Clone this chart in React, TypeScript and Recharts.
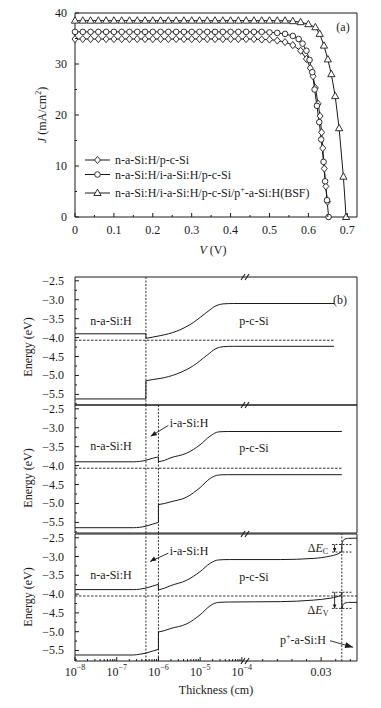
import React from 'react'
import {
  LineChart, Line, XAxis, YAxis, ReferenceLine, ReferenceArea, ReferenceDot,
} from 'recharts'

const FONT = '"Liberation Serif", "Times New Roman", Times, serif'
const INK = '#1a1a1a'

// ---------- (a) J-V curves ----------
const vDiamond = [0, 0.02, 0.04, 0.06, 0.08, 0.1, 0.12, 0.14, 0.16, 0.18, 0.2, 0.22, 0.24, 0.26, 0.28, 0.3, 0.32, 0.34, 0.36, 0.38, 0.4, 0.42, 0.44, 0.46, 0.48, 0.5,
  0.52, 0.54, 0.56, 0.58, 0.595, 0.605, 0.612, 0.618, 0.625, 0.63, 0.634, 0.637, 0.641, 0.645, 0.649]
const jDiamond = [34.9, 34.9, 34.9, 34.9, 34.9, 34.9, 34.9, 34.9, 34.9, 34.9, 34.9, 34.9, 34.9, 34.9, 34.9, 34.9, 34.9, 34.9, 34.9, 34.9, 34.9, 34.9, 34.9, 34.9, 34.8, 34.8,
  34.6, 34.3, 33.7, 32.6, 31.0, 29.2, 27.6, 25.3, 22.2, 19.8, 16.6, 13.5, 9.5, 6.0, 3.0]

const vCircle = [0, 0.02, 0.04, 0.06, 0.08, 0.1, 0.12, 0.14, 0.16, 0.18, 0.2, 0.22, 0.24, 0.26, 0.28, 0.3, 0.32, 0.34, 0.36, 0.38, 0.4, 0.42, 0.44, 0.46, 0.48, 0.5,
  0.52, 0.54, 0.56, 0.575, 0.585, 0.595, 0.603, 0.61, 0.616, 0.622, 0.628, 0.633, 0.639, 0.643, 0.648, 0.652]
const jCircle = [36.3, 36.3, 36.3, 36.3, 36.3, 36.3, 36.3, 36.3, 36.3, 36.3, 36.3, 36.3, 36.3, 36.3, 36.3, 36.3, 36.3, 36.3, 36.3, 36.3, 36.3, 36.3, 36.3, 36.3, 36.3, 36.2,
  36.1, 35.9, 35.5, 34.9, 34.0, 32.6, 30.8, 28.4, 25.0, 21.8, 18.6, 15.2, 10.8, 7.0, 3.3, 0]

const vTriangle = [0, 0.02, 0.04, 0.06, 0.08, 0.1, 0.12, 0.14, 0.16, 0.18, 0.2, 0.22, 0.24, 0.26, 0.28, 0.3, 0.32, 0.34, 0.36, 0.38, 0.4, 0.42, 0.44, 0.46, 0.48, 0.5, 0.52, 0.54, 0.56,
  0.58, 0.6, 0.618, 0.629, 0.64, 0.65, 0.659, 0.669, 0.679, 0.69, 0.697]
const jTriangle = [38.5, 38.5, 38.5, 38.5, 38.5, 38.5, 38.5, 38.5, 38.5, 38.5, 38.5, 38.5, 38.5, 38.5, 38.5, 38.5, 38.5, 38.5, 38.5, 38.5, 38.5, 38.5, 38.5, 38.5, 38.5, 38.5, 38.5, 38.5, 38.4,
  38.2, 37.8, 37.2, 35.9, 33.6, 30.9, 28.0, 23.7, 17.4, 7.9, 0]

const jMajor = [0, 10, 20, 30, 40]
const jMinor = [5, 15, 25, 35]
const vMajor = [0, 0.1, 0.2, 0.3, 0.4, 0.5, 0.6, 0.7]
const vMinor = [0.05, 0.15, 0.25, 0.35, 0.45, 0.55, 0.65]

// ---------- (b) band diagrams ----------
// x = position on the thickness axis: log10(cm) left of the break, compressed linear part right of it
const X_DOMAIN: [number, number] = [-8, -1.24]
const E_DOMAIN: [number, number] = [-5.78, -2.4]
const decadeExps = [-8, -7, -6, -5, -4]
const linTick = -2.1 // "0.03"
const linMinor = [-3.5, -3.15, -2.8, -2.45, -1.75, -1.4]
const eMajor = [-2.5, -3, -3.5, -4, -4.5, -5, -5.5]
const eMinor = [-2.75, -3.25, -3.75, -4.25, -4.75, -5.25, -5.75]

// (b) top: n-a-Si:H / p-c-Si
const nEc1 = [[-8, -3.9], [-6.3, -3.9], [-6.3, -4.02]]
const cEc1 = [[-6.3, -4.02], [-6.15, -3.99], [-5.96, -3.95], [-5.56, -3.83], [-5.16, -3.6], [-4.84, -3.33], [-4.62, -3.16], [-4.45, -3.11], [-4.2, -3.1], [-1.79, -3.1]]
const nEv1 = [[-8, -5.62], [-6.3, -5.62], [-6.3, -5.14]]
const cEv1 = [[-6.3, -5.14], [-6.15, -5.11], [-5.96, -5.08], [-5.56, -4.96], [-5.16, -4.74], [-4.84, -4.47], [-4.62, -4.29], [-4.45, -4.24], [-4.2, -4.23], [-1.79, -4.23]]
const ef1 = [[-8, -4.07], [-1.79, -4.07]]

// (b) middle: n-a-Si:H / i-a-Si:H / p-c-Si
const nEc2 = [[-8, -3.9], [-6.6, -3.9], [-6.45, -3.89], [-6.3, -3.86]]
const iEc2 = [[-6.3, -3.86], [-6.15, -3.81], [-6.0, -3.77], [-6.0, -3.9]]
const cEc2 = [[-6.0, -3.9], [-5.85, -3.86], [-5.72, -3.8], [-5.32, -3.67], [-5.0, -3.45], [-4.76, -3.22], [-4.56, -3.11], [-4.35, -3.1], [-1.604, -3.1]]
const nEv2 = [[-8, -5.64], [-6.6, -5.64], [-6.45, -5.63], [-6.3, -5.6]]
const iEv2 = [[-6.3, -5.6], [-6.15, -5.55], [-6.0, -5.5], [-6.0, -5.03]]
const cEv2 = [[-6.0, -5.03], [-5.85, -5.0], [-5.72, -4.96], [-5.32, -4.83], [-5.0, -4.58], [-4.76, -4.34], [-4.56, -4.25], [-4.35, -4.24], [-1.604, -4.24]]
const ef2 = [[-8, -4.07], [-1.604, -4.07]]

// (b) bottom: with p+-a-Si:H BSF
const nEc3 = [[-8, -3.88], [-6.6, -3.88], [-6.45, -3.87], [-6.3, -3.84]]
const iEc3 = [[-6.3, -3.84], [-6.15, -3.79], [-6.0, -3.74], [-6.0, -3.89]]
const cEc3 = [[-6.0, -3.89], [-5.85, -3.84], [-5.72, -3.78], [-5.32, -3.63], [-5.0, -3.4], [-4.76, -3.18], [-4.56, -3.09], [-4.3, -3.08], [-3.08, -3.08], [-2.29, -3.05], [-1.89, -2.99], [-1.72, -2.94], [-1.62, -2.88], [-1.604, -2.87]]
const jEc3 = [[-1.604, -2.87], [-1.604, -2.68]]
const pEc3 = [[-1.604, -2.68], [-1.58, -2.59], [-1.55, -2.55], [-1.5, -2.525], [-1.44, -2.515], [-1.24, -2.51]]
const nEv3 = [[-8, -5.62], [-6.6, -5.62], [-6.45, -5.6], [-6.3, -5.57]]
const iEv3 = [[-6.3, -5.57], [-6.15, -5.52], [-6.0, -5.47], [-6.0, -5.01]]
const cEv3 = [[-6.0, -5.01], [-5.85, -4.97], [-5.72, -4.92], [-5.32, -4.79], [-5.0, -4.55], [-4.76, -4.31], [-4.56, -4.22], [-4.3, -4.21], [-3.08, -4.2], [-2.29, -4.16], [-1.89, -4.11], [-1.72, -4.07], [-1.62, -4.02], [-1.604, -3.95]]
const jEv3 = [[-1.604, -3.95], [-1.604, -4.4]]
const pEv3 = [[-1.604, -4.4], [-1.58, -4.3], [-1.55, -4.25], [-1.5, -4.23], [-1.44, -4.22], [-1.24, -4.22]]
const ef3 = [[-8, -4.05], [-1.24, -4.05]]

const dEc = [-2.68, -2.88]
const dEv = [-3.95, -4.38]

// ---------- helpers ----------
const near = (arr: number[], v: number) => arr.some(a => Math.abs(a - v) < 1e-6)
const toRows = (pts: number[][]) => pts.map(([x, e]) => ({ x, e }))
const jvRows = (vs: number[], js: number[]) => vs.map((v, i) => ({ v, j: js[i] }))

const logMinor: number[] = []
for (const e of [-8, -7, -6, -5]) for (const k of [2, 3, 4, 5, 6, 7, 8, 9]) logMinor.push(e + Math.log10(k))
const xMajors = [...decadeExps, linTick]
const xTicks = [...xMajors, ...logMinor, ...linMinor].sort((a, b) => a - b)

const Diamond = ({ cx, cy }: any) => (
  <path d={`M${cx},${cy - 3.6}L${cx + 3},${cy}L${cx},${cy + 3.6}L${cx - 3},${cy}Z`} fill="#fff" stroke={INK} strokeWidth={0.9} />
)
const Circle = ({ cx, cy }: any) => <circle cx={cx} cy={cy} r={2.8} fill="#fff" stroke={INK} strokeWidth={0.9} />
const Triangle = ({ cx, cy }: any) => (
  <path d={`M${cx},${cy - 3.9}L${cx + 3.6},${cy + 2.5}L${cx - 3.6},${cy + 2.5}Z`} fill="#fff" stroke={INK} strokeWidth={0.9} />
)

const leftTick = (majors: number[], fmt: (v: number) => string, gap: number) => (p: any) => {
  const { x, y, payload } = p
  const major = near(majors, payload.value)
  return (
    <g>
      <line x1={x} x2={x + (major ? 4 : 2)} y1={y} y2={y} stroke={INK} />
      {major && (
        <text x={x - gap} y={y} dominantBaseline="central" textAnchor="end" fontFamily={FONT} fontSize={12} fill={INK}>
          {fmt(payload.value)}
        </text>
      )}
    </g>
  )
}

const jvBottomTick = (p: any) => {
  const { x, y, payload } = p
  const major = near(vMajor, payload.value)
  return (
    <g>
      <line x1={x} x2={x} y1={y} y2={y - (major ? 4 : 2)} stroke={INK} />
      {major && (
        <text x={x} y={y + 13} dominantBaseline="central" textAnchor="middle" fontFamily={FONT} fontSize={12} fill={INK}>
          {payload.value === 0 ? '0' : payload.value.toFixed(1)}
        </text>
      )}
    </g>
  )
}

const thickBottomTick = (p: any) => {
  const { x, y, payload } = p
  const v = payload.value
  const major = near(xMajors, v)
  let label: React.ReactNode = null
  if (near(decadeExps, v)) {
    label = (
      <>
        10<tspan fontSize={8} dy={-5}>{'\u2212' + Math.abs(Math.round(v))}</tspan>
      </>
    )
  } else if (near([linTick], v)) label = '0.03'
  return (
    <g>
      <line x1={x} x2={x} y1={y} y2={y - (major ? 4 : 2)} stroke={INK} />
      {label && (
        <text x={x} y={y + 11} dominantBaseline="central" textAnchor="middle" fontFamily={FONT} fontSize={12} fill={INK}>
          {label}
        </text>
      )}
    </g>
  )
}

const thickTopTick = (p: any) => {
  const { x, y, payload } = p
  const major = near(xMajors, payload.value)
  return <line x1={x} x2={x} y1={y} y2={y + (major ? 4 : 2)} stroke={INK} />
}

const slashes = (p: any) => (
  <g stroke={INK} strokeWidth={1.1}>
    <line x1={p.cx - 5} y1={p.cy + 3} x2={p.cx - 1} y2={p.cy - 3} />
    <line x1={p.cx - 1} y1={p.cy + 3} x2={p.cx + 3} y2={p.cy - 3} />
  </g>
)

const head = (ang: number, len: number, half: number) => (p: any) => {
  const a = (ang * Math.PI) / 180
  const ux = Math.cos(a)
  const uy = Math.sin(a)
  const bx = p.cx - ux * len
  const by = p.cy - uy * len
  return <path d={`M${p.cx},${p.cy}L${bx - uy * half},${by + ux * half}L${bx + uy * half},${by - ux * half}Z`} fill={INK} />
}

const arrow = (key: string, from: number[], to: number[], ang: number, len: number, half: number) => [
  <ReferenceLine key={key + 'l'} segment={[{ x: from[0], y: from[1] }, { x: to[0], y: to[1] }]} stroke={INK} strokeWidth={0.9} ifOverflow="visible" />,
  <ReferenceDot key={key + 'h'} x={to[0]} y={to[1]} r={0} ifOverflow="visible" shape={head(ang, len, half)} />,
]

const hDash = (key: string, y: number) => (
  <ReferenceLine key={key} segment={[{ x: -1.84, y }, { x: -1.37, y }]} stroke={INK} strokeWidth={0.9} strokeDasharray="2 1.5" ifOverflow="visible" />
)

type Seg = { pts: number[][]; curved?: boolean }

function bandPanel(top: number, segs: Seg[], fermi: number[][], vlines: number[], bottom: boolean, extra: React.ReactNode[]) {
  const h = bottom ? 180 : 140
  return (
    <div style={{ position: 'absolute', left: 0, top }}>
      <LineChart width={381} height={h} margin={{ top: 6, right: 24, bottom: bottom ? 0 : 6, left: 0 }}>
        <XAxis
          dataKey="x" type="number" domain={X_DOMAIN} hide={!bottom} height={47}
          ticks={xTicks} interval={0} tick={thickBottomTick} tickLine={false} axisLine={false} tickSize={0} tickMargin={0}
        />
        {bottom && (
          <XAxis
            xAxisId="top" orientation="top" dataKey="x" type="number" domain={X_DOMAIN} height={0}
            ticks={xTicks} interval={0} tick={thickTopTick} tickLine={false} axisLine={false} tickSize={0} tickMargin={0}
          />
        )}
        <YAxis
          type="number" domain={E_DOMAIN} width={75} ticks={[...eMajor, ...eMinor]} interval={0}
          tick={leftTick(eMajor, v => '\u2212' + Math.abs(v).toFixed(1), 11)} tickLine={false} axisLine={false} tickSize={0} tickMargin={0}
        />
        <ReferenceArea x1={X_DOMAIN[0]} x2={X_DOMAIN[1]} y1={E_DOMAIN[0]} y2={E_DOMAIN[1]} fill="none" stroke={INK} strokeWidth={1} ifOverflow="visible" />
        {vlines.map(x => (
          <ReferenceLine key={'v' + x} x={x} stroke={INK} strokeWidth={0.9} strokeDasharray="2 1.5" />
        ))}
        <Line data={toRows(fermi)} dataKey="e" type="linear" stroke={INK} strokeWidth={0.9} strokeDasharray="2.5 1.5" dot={false} isAnimationActive={false} />
        {segs.map((s, i) => (
          <Line key={i} data={toRows(s.pts)} dataKey="e" type={s.curved ? 'monotone' : 'linear'} stroke={INK} strokeWidth={1} dot={false} isAnimationActive={false} />
        ))}
        <ReferenceDot x={-3.9} y={E_DOMAIN[1]} r={0} ifOverflow="visible" shape={slashes} />
        {bottom && <ReferenceDot x={-3.9} y={E_DOMAIN[0]} r={0} ifOverflow="visible" shape={slashes} />}
        {extra}
      </LineChart>
    </div>
  )
}

const Txt = ({ x, y, children, size = 12, anchor = 'middle', rotate = false, italic = false }: any) => (
  <text
    x={x} y={y} fontFamily={FONT} fontSize={size} fill={INK} textAnchor={anchor} dominantBaseline="central"
    fontStyle={italic ? 'italic' : undefined} transform={rotate ? `rotate(-90 ${x} ${y})` : undefined}
  >
    {children}
  </text>
)

export default function App() {
  return (
    <div style={{ position: 'absolute', left: 0, top: 0, width: 381, height: 708, background: '#fff', overflow: 'hidden' }}>
      {/* (a) */}
      <div style={{ position: 'absolute', left: 0, top: 0 }}>
        <LineChart width={381} height={260} margin={{ top: 13, right: 24, bottom: 0, left: 0 }}>
          <XAxis
            dataKey="v" type="number" domain={[0, 0.725]} height={43} ticks={[...vMajor, ...vMinor]} interval={0}
            tick={jvBottomTick} tickLine={false} axisLine={false} tickSize={0} tickMargin={0}
          />
          <YAxis
            type="number" domain={[0, 40]} width={75} ticks={[...jMajor, ...jMinor]} interval={0}
            tick={leftTick(jMajor, v => String(v), 8)} tickLine={false} axisLine={false} tickSize={0} tickMargin={0}
          />
          <ReferenceArea x1={0} x2={0.725} y1={0} y2={40} fill="none" stroke={INK} strokeWidth={1} ifOverflow="visible" />
          <Line data={jvRows(vTriangle, jTriangle)} dataKey="j" stroke={INK} strokeWidth={1} isAnimationActive={false}
            dot={(p: any) => <Triangle key={'t' + p.index} cx={p.cx} cy={p.cy} />} />
          <Line data={jvRows(vDiamond, jDiamond)} dataKey="j" stroke={INK} strokeWidth={1} isAnimationActive={false}
            dot={(p: any) => <Diamond key={'d' + p.index} cx={p.cx} cy={p.cy} />} />
          <Line data={jvRows(vCircle, jCircle)} dataKey="j" stroke={INK} strokeWidth={1} isAnimationActive={false}
            dot={(p: any) => <Circle key={'c' + p.index} cx={p.cx} cy={p.cy} />} />
        </LineChart>
      </div>

      {/* (b) */}
      {bandPanel(271, [
        { pts: nEc1 }, { pts: cEc1, curved: true }, { pts: nEv1 }, { pts: cEv1, curved: true },
      ], ef1, [-6.3], false, [])}
      {bandPanel(399, [
        { pts: nEc2, curved: true }, { pts: iEc2 }, { pts: cEc2, curved: true },
        { pts: nEv2, curved: true }, { pts: iEv2 }, { pts: cEv2, curved: true },
      ], ef2, [-6.3, -6.0], false, [
        ...arrow('ia2', [-5.763, -2.94], [-6.185, -3.225], 148.7, 6, 2.4),
      ])}
      {bandPanel(528, [
        { pts: nEc3, curved: true }, { pts: iEc3 }, { pts: cEc3, curved: true }, { pts: jEc3 }, { pts: pEc3, curved: true },
        { pts: nEv3, curved: true }, { pts: iEv3 }, { pts: cEv3, curved: true }, { pts: jEv3 }, { pts: pEv3, curved: true },
      ], ef3, [-6.3, -6.0, -1.604], true, [
        ...arrow('ia3', [-5.763, -2.91], [-6.2, -3.134], 148.7, 6, 2.4),
        ...arrow('pp', [-1.885, -5.24], [-1.333, -5.415], 15.8, 8, 3),
        hDash('c1', dEc[0]), hDash('c2', dEc[1]), hDash('v1', dEv[0]), hDash('v2', dEv[1]),
        ...arrow('dc', [-1.777, dEc[0]], [-1.777, dEc[1]], 90, 4, 1.8),
        ...arrow('dv', [-1.777, dEv[0]], [-1.777, dEv[1]], 90, 4, 1.8),
      ])}

      {/* text */}
      <svg width={381} height={708} style={{ position: 'absolute', left: 0, top: 0, pointerEvents: 'none' }}>
        <Txt x={343} y={27}>(a)</Txt>
        {[
          { y: 160, M: Diamond, t: <>n-a-Si:H/p-c-Si</> },
          { y: 174.5, M: Circle, t: <>n-a-Si:H/i-a-Si:H/p-c-Si</> },
          { y: 193, M: Triangle, t: <>n-a-Si:H/i-a-Si:H/p-c-Si/p<tspan fontSize={8} dy={-4}>+</tspan><tspan dy={4}>-a-Si:H(BSF)</tspan></> },
        ].map(({ y, M, t }, i) => (
          <g key={i}>
            <line x1={85} x2={110} y1={y} y2={y} stroke={INK} />
            <M cx={97.5} cy={y} />
            <Txt x={115} y={y} anchor="start">{t}</Txt>
          </g>
        ))}
        <Txt x={213} y={250}><tspan fontStyle="italic">V</tspan> (V)</Txt>
        <Txt x={42} y={115} rotate><tspan fontStyle="italic">J</tspan> (mA/cm<tspan fontSize={8} dy={-4}>2</tspan><tspan dy={4}>)</tspan></Txt>

        <Txt x={340} y={300}>(b)</Txt>
        <Txt x={111} y={321}>n-a-Si:H</Txt>
        <Txt x={254} y={321}>p-c-Si</Txt>
        <Txt x={111} y={445.5}>n-a-Si:H</Txt>
        <Txt x={254} y={448}>p-c-Si</Txt>
        <Txt x={189} y={422.5}>i-a-Si:H</Txt>
        <Txt x={111} y={574.5}>n-a-Si:H</Txt>
        <Txt x={254} y={576.5}>p-c-Si</Txt>
        <Txt x={189} y={550.5}>i-a-Si:H</Txt>
        <Txt x={318} y={547.5}>Δ<tspan fontStyle="italic">E</tspan><tspan fontSize={8} dy={3}>C</tspan></Txt>
        <Txt x={318} y={610}>Δ<tspan fontStyle="italic">E</tspan><tspan fontSize={8} dy={3}>V</tspan></Txt>
        <Txt x={303} y={640}>p<tspan fontSize={8} dy={-4}>+</tspan><tspan dy={4}>-a-Si:H</tspan></Txt>
        <Txt x={28} y={347} rotate>Energy (eV)</Txt>
        <Txt x={28} y={478} rotate>Energy (eV)</Txt>
        <Txt x={28} y={597} rotate>Energy (eV)</Txt>
        <Txt x={216} y={690}>Thickness (cm)</Txt>
      </svg>
    </div>
  )
}
